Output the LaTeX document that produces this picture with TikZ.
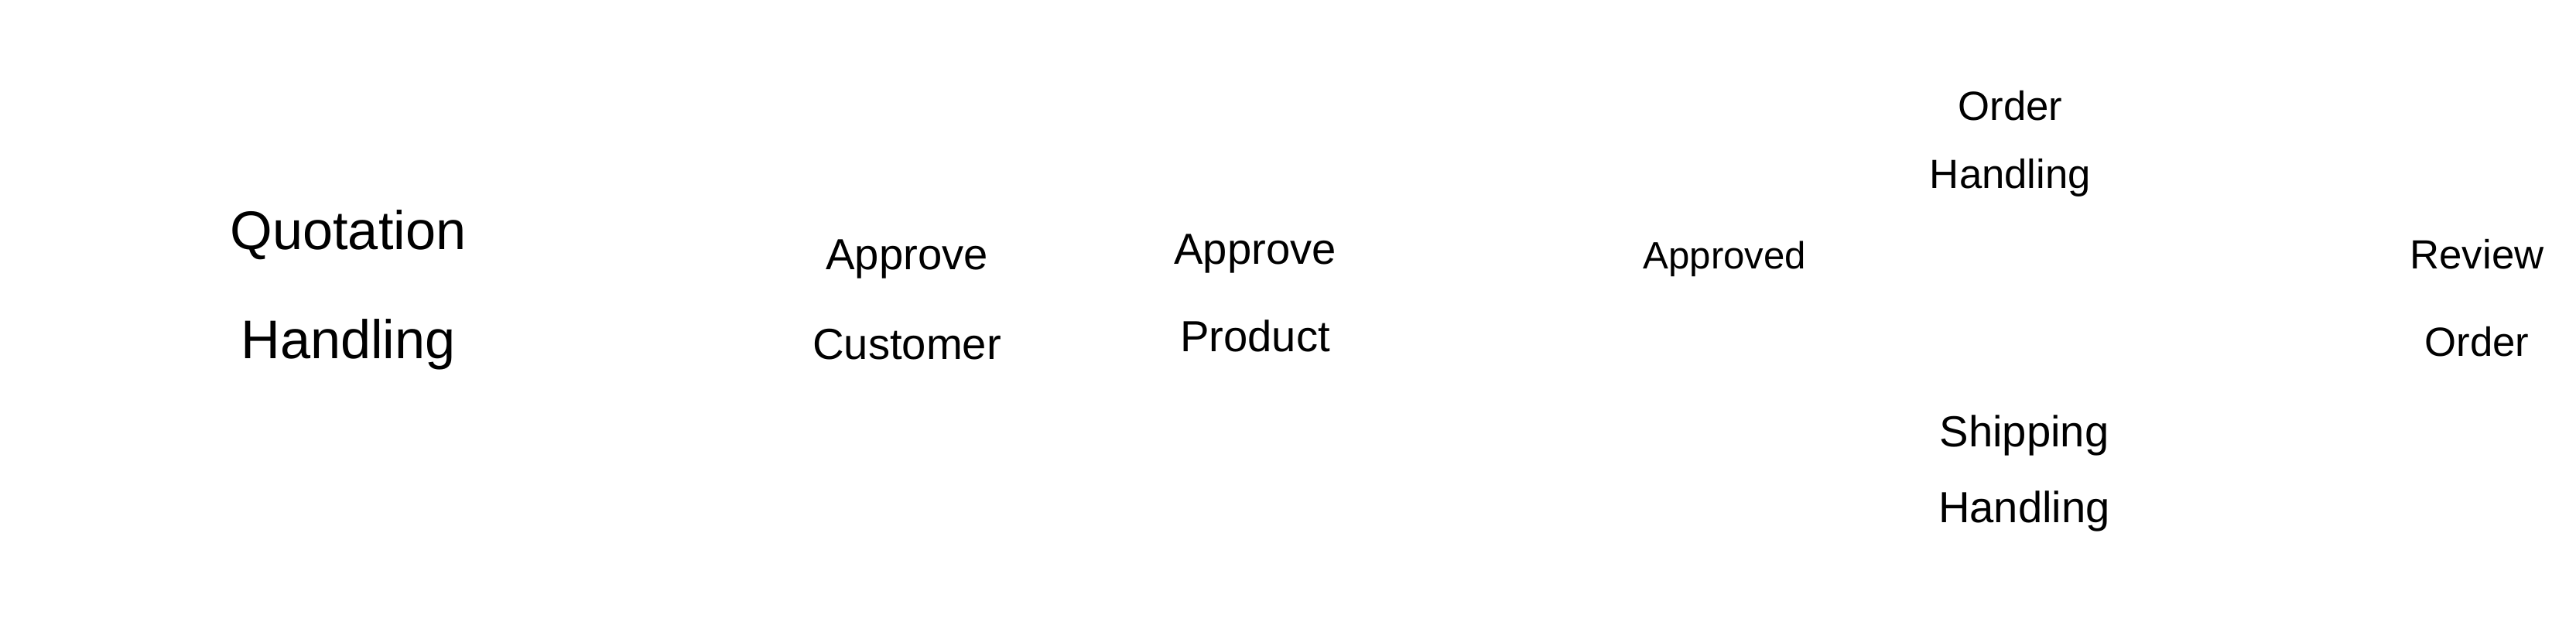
\documentclass[tikz,border=0pt]{standalone}
\usepackage{fontspec}
\setmainfont{Liberation Sans}
\usepackage{pgf, tikz}
\pgfdeclarelayer{edgelayer}
\pgfdeclarelayer{nodelayer}
\pgfsetlayers{edgelayer,nodelayer,main}
\tikzstyle{task}=[align=center, inner sep=0pt, text=black]
\begin{document}
\begin{tikzpicture}
				\useasboundingbox (0, 0) rectangle (33.29, 8.26);
				\begin{pgfonlayer}{nodelayer}
					\node [style=task, font=\fontsize{20}{40}\selectfont] (0) at (4.5, 4.51) {Quotation\\Handling};
					\node [style=task, font=\fontsize{16}{33}\selectfont] (1) at (11.72, 4.39) {Approve\\Customer};
					\node [style=task, font=\fontsize{16}{32}\selectfont] (2) at (16.22, 4.47) {Approve\\Product};
					\node [style=task, font=\fontsize{14}{20}\selectfont] (3) at (22.29, 4.91) {Approved};
					\node [style=task, font=\fontsize{15}{25}\selectfont] (4) at (25.98, 6.4) {Order\\Handling};
					\node [style=task, font=\fontsize{16}{28}\selectfont] (5) at (26.16, 2.14) {Shipping\\Handling};
					\node [style=task, font=\fontsize{15}{32}\selectfont] (6) at (32.01, 4.41) {Review\\Order};
				\end{pgfonlayer}
			\end{tikzpicture}
\end{document}
